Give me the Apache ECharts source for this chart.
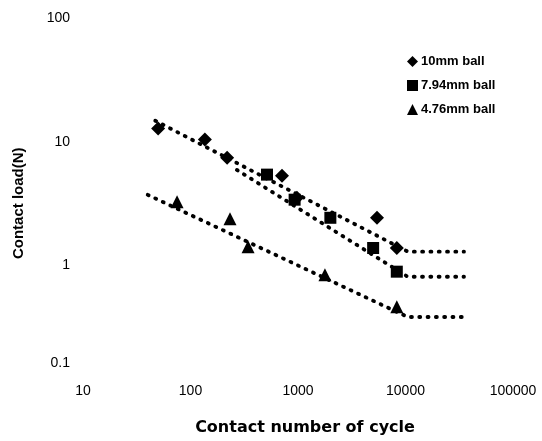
<!DOCTYPE html>
<html>
<head>
    <meta charset="utf-8" />
    <script src="https://cdn.jsdelivr.net/npm/echarts@6/dist/echarts.min.js"></script>
    <style>
        html, body { margin: 0; padding: 0; background: #fff; }
        #chart { width: 542px; height: 441px; }
    </style>
</head>
<body>
<div id="chart"></div>
<script type="text/javascript">
    // measured points [cycles, load N]
    var ball10 = [[50, 12.8], [136, 10.4], [219, 7.4], [710, 5.3], [977, 3.5], [5430, 2.41], [8300, 1.37]];
    var ball794 = [[515, 5.4], [930, 3.38], [2000, 2.41], [5000, 1.37], [8300, 0.88]];
    var ball476 = [[75, 3.25], [233, 2.37], [343, 1.4], [1780, 0.83], [8300, 0.456]];

    // dotted trend lines (start, knee, end)
    var trend10 = [[47, 14.8], [10500, 1.28], [35000, 1.28]];
    var trend794 = [[270, 5.9], [10500, 0.8], [35000, 0.8]];
    var trend476 = [[40, 3.7], [10500, 0.377], [35000, 0.377]];

    var names = ['10mm ball', '7.94mm ball', '4.76mm ball'];
    var xTicks = [10, 100, 1000, 10000, 100000];
    var yTicks = [0.1, 1, 10, 100];

    var chart = echarts.init(document.getElementById('chart'));

    function dotted(data) {
        return {
            type: 'line',
            data: data,
            symbol: 'none',
            silent: true,
            lineStyle: { color: '#000', width: 3.8, type: [1, 7.3], cap: 'round', opacity: 1 },
            z: 1
        };
    }

    var option = {
        backgroundColor: '#fff',
        animation: false,
        textStyle: { fontFamily: 'Liberation Sans, Arial, sans-serif' },
        grid: { left: 83, right: 29, top: 18.5, bottom: 52 },
        legend: {
            data: names,
            orient: 'vertical',
            left: 402,
            top: 50,
            itemGap: 11,
            itemWidth: 11,
            itemHeight: 11,
            textStyle: { color: '#000', fontSize: 13, fontWeight: 'bold', padding: [0, 0, 0, -2] }
        },
        xAxis: {
            type: 'log',
            logBase: 10,
            min: xTicks[0],
            max: xTicks[xTicks.length - 1],
            name: 'Contact number of cycle',
            nameLocation: 'middle',
            nameGap: 32,
            nameTextStyle: { color: '#000', fontSize: 16, fontWeight: 'bold', fontFamily: 'DejaVu Sans', padding: [0, 0, 0, 14] },
            axisLine: { show: false },
            axisTick: { show: false },
            splitLine: { show: false },
            axisLabel: {
                color: '#000',
                fontSize: 14,
                margin: -4,
                formatter: function (v) { return String(Math.round(v)); }
            }
        },
        yAxis: {
            type: 'log',
            logBase: 10,
            min: yTicks[0],
            max: yTicks[yTicks.length - 1],
            name: 'Contact load(N)',
            nameLocation: 'middle',
            nameGap: 57,
            nameTextStyle: { color: '#000', fontSize: 15, fontWeight: 'bold' },
            axisLine: { show: false },
            axisTick: { show: false },
            splitLine: { show: false },
            axisLabel: {
                color: '#000',
                fontSize: 14,
                margin: 13,
                formatter: function (v) {
                    if (v < 1) return '{low|0.1}';
                    return String(Math.round(v));
                },
                rich: { low: { fontSize: 14, color: '#000', padding: [0, 0, 50, 0] } }
            }
        },
        series: [
            dotted(trend10),
            dotted(trend794),
            dotted(trend476),
            {
                name: names[0], type: 'scatter', data: ball10,
                symbol: 'diamond', symbolSize: 14, itemStyle: { color: '#000', opacity: 1 }, z: 3
            },
            {
                name: names[1], type: 'scatter', data: ball794,
                symbol: 'rect', symbolSize: 12, itemStyle: { color: '#000', opacity: 1 }, z: 3
            },
            {
                name: names[2], type: 'scatter', data: ball476,
                symbol: 'triangle', symbolSize: 13, itemStyle: { color: '#000', opacity: 1 }, z: 3
            }
        ]
    };
    chart.setOption(option);
</script>
</body>
</html>
